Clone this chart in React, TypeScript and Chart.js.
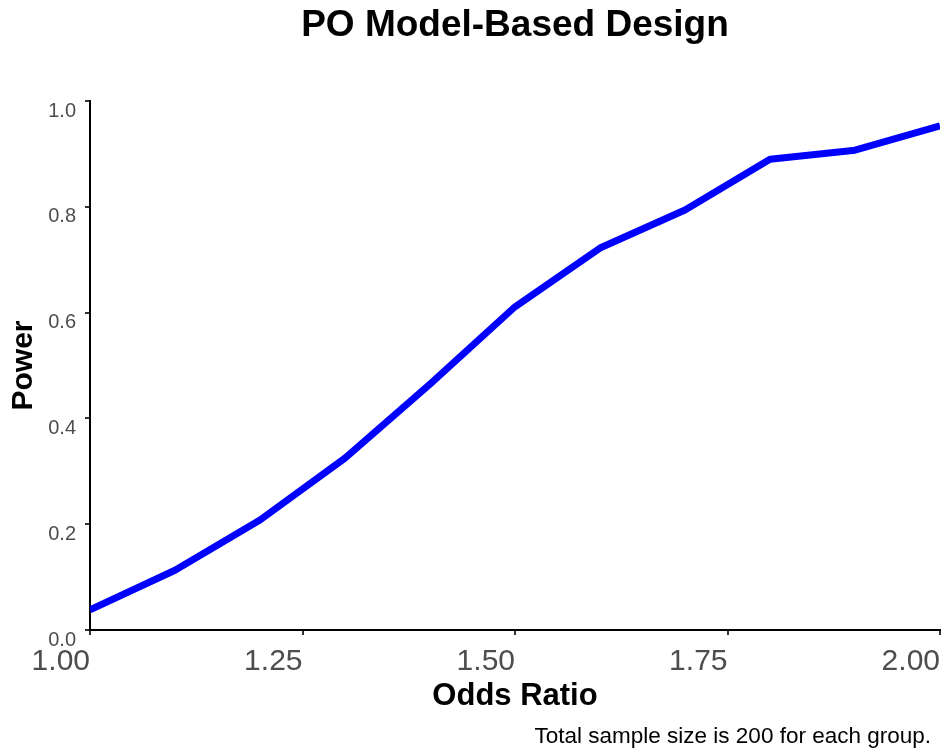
import React, { useEffect, useRef } from "react";
import { Chart, registerables } from "chart.js";

Chart.register(...registerables);

const oddsRatios = [1.0, 1.1, 1.2, 1.3, 1.4, 1.5, 1.6, 1.7, 1.8, 1.9, 2.0];
const power = [0.038, 0.113, 0.208, 0.325, 0.465, 0.611, 0.722, 0.794, 0.89, 0.907, 0.953];
const xTicks = [1.0, 1.25, 1.5, 1.75, 2.0];
const yTicks = [0.0, 0.2, 0.4, 0.6, 0.8, 1.0];

const titleText = "PO Model-Based Design";
const xTitle = "Odds Ratio";
const yTitle = "Power";
const captionText = "Total sample size is 200 for each group.";

const FONT = "'Liberation Sans', Arial, sans-serif";

const captionPlugin = {
  id: "caption",
  afterDraw(chart: any) {
    const ctx = chart.ctx;
    const area = chart.chartArea;
    ctx.save();
    ctx.font = `22.5px ${FONT}`;
    ctx.fillStyle = "#000";
    ctx.textAlign = "right";
    ctx.textBaseline = "alphabetic";
    ctx.fillText(captionText, area.right - 9, area.bottom + 113);
    ctx.restore();
  },
};

export default function App() {
  const ref = useRef<HTMLCanvasElement | null>(null);

  useEffect(() => {
    document.body.style.margin = "0";
    const canvas = ref.current;
    if (!canvas) return;
    Chart.defaults.font.family = FONT;
    const chart = new Chart(canvas, {
      type: "line",
      data: {
        datasets: [
          {
            data: oddsRatios.map((x, i) => ({ x, y: power[i] })),
            borderColor: "#0000FF",
            backgroundColor: "#0000FF",
            borderWidth: 7,
            pointRadius: 0,
            tension: 0,
            borderCapStyle: "butt",
            borderJoinStyle: "round",
            fill: false,
          },
        ],
      },
      plugins: [captionPlugin],
      options: {
        responsive: false,
        animation: false,
        layout: { padding: { left: 0, right: 3, top: 0, bottom: 39 } },
        plugins: {
          legend: { display: false },
          tooltip: { enabled: false },
          title: {
            display: true,
            text: titleText,
            fullSize: false,
            color: "#000",
            font: { family: FONT, size: 37, weight: "bold", lineHeight: 1.2 },
            padding: { top: 4, bottom: 52.6 },
          },
        },
        scales: {
          x: {
            type: "linear",
            min: 1,
            max: 2,
            afterBuildTicks: (scale: any) => {
              scale.ticks = xTicks.map((v) => ({ value: v }));
            },
            afterFit: (scale: any) => {
              scale.height = 85;
              scale.paddingLeft = 0;
              scale.paddingRight = 0;
            },
            ticks: {
              align: "end",
              padding: 9,
              color: "#4d4d4d",
              font: { family: FONT, size: 30 },
              maxRotation: 0,
              autoSkip: false,
              callback: (v: any) => Number(v).toFixed(2),
            },
            grid: {
              display: true,
              drawOnChartArea: false,
              drawTicks: true,
              tickLength: 5,
              tickColor: "#333333",
              tickWidth: 2,
              lineWidth: 2,
            },
            border: { display: true, color: "#000", width: 2 },
            title: {
              display: true,
              text: xTitle,
              color: "#000",
              font: { family: FONT, size: 31, weight: "bold", lineHeight: 1.2 },
              padding: { top: 0, bottom: 0 },
            },
          },
          y: {
            type: "linear",
            min: 0,
            max: 1,
            afterBuildTicks: (scale: any) => {
              scale.ticks = yTicks.map((v) => ({ value: v }));
            },
            afterFit: (scale: any) => {
              scale.width = 90;
              scale.paddingTop = 0;
              scale.paddingBottom = 0;
            },
            ticks: {
              padding: 9,
              labelOffset: 10,
              color: "#4d4d4d",
              font: { family: FONT, size: 20 },
              autoSkip: false,
              callback: (v: any) => Number(v).toFixed(1),
            },
            grid: {
              display: true,
              drawOnChartArea: false,
              drawTicks: true,
              tickLength: 5,
              tickColor: "#333333",
              tickWidth: 2,
              lineWidth: 2,
            },
            border: { display: true, color: "#000", width: 2 },
            title: {
              display: true,
              text: yTitle,
              color: "#000",
              font: { family: FONT, size: 30, weight: "bold", lineHeight: 1.2 },
              padding: { top: 6, bottom: 0 },
            },
          },
        },
      },
    });
    return () => chart.destroy();
  }, []);

  return (
    <div style={{ width: 943, height: 754, background: "#fff" }}>
      <canvas ref={ref} width={943} height={754} style={{ display: "block" }} />
    </div>
  );
}
